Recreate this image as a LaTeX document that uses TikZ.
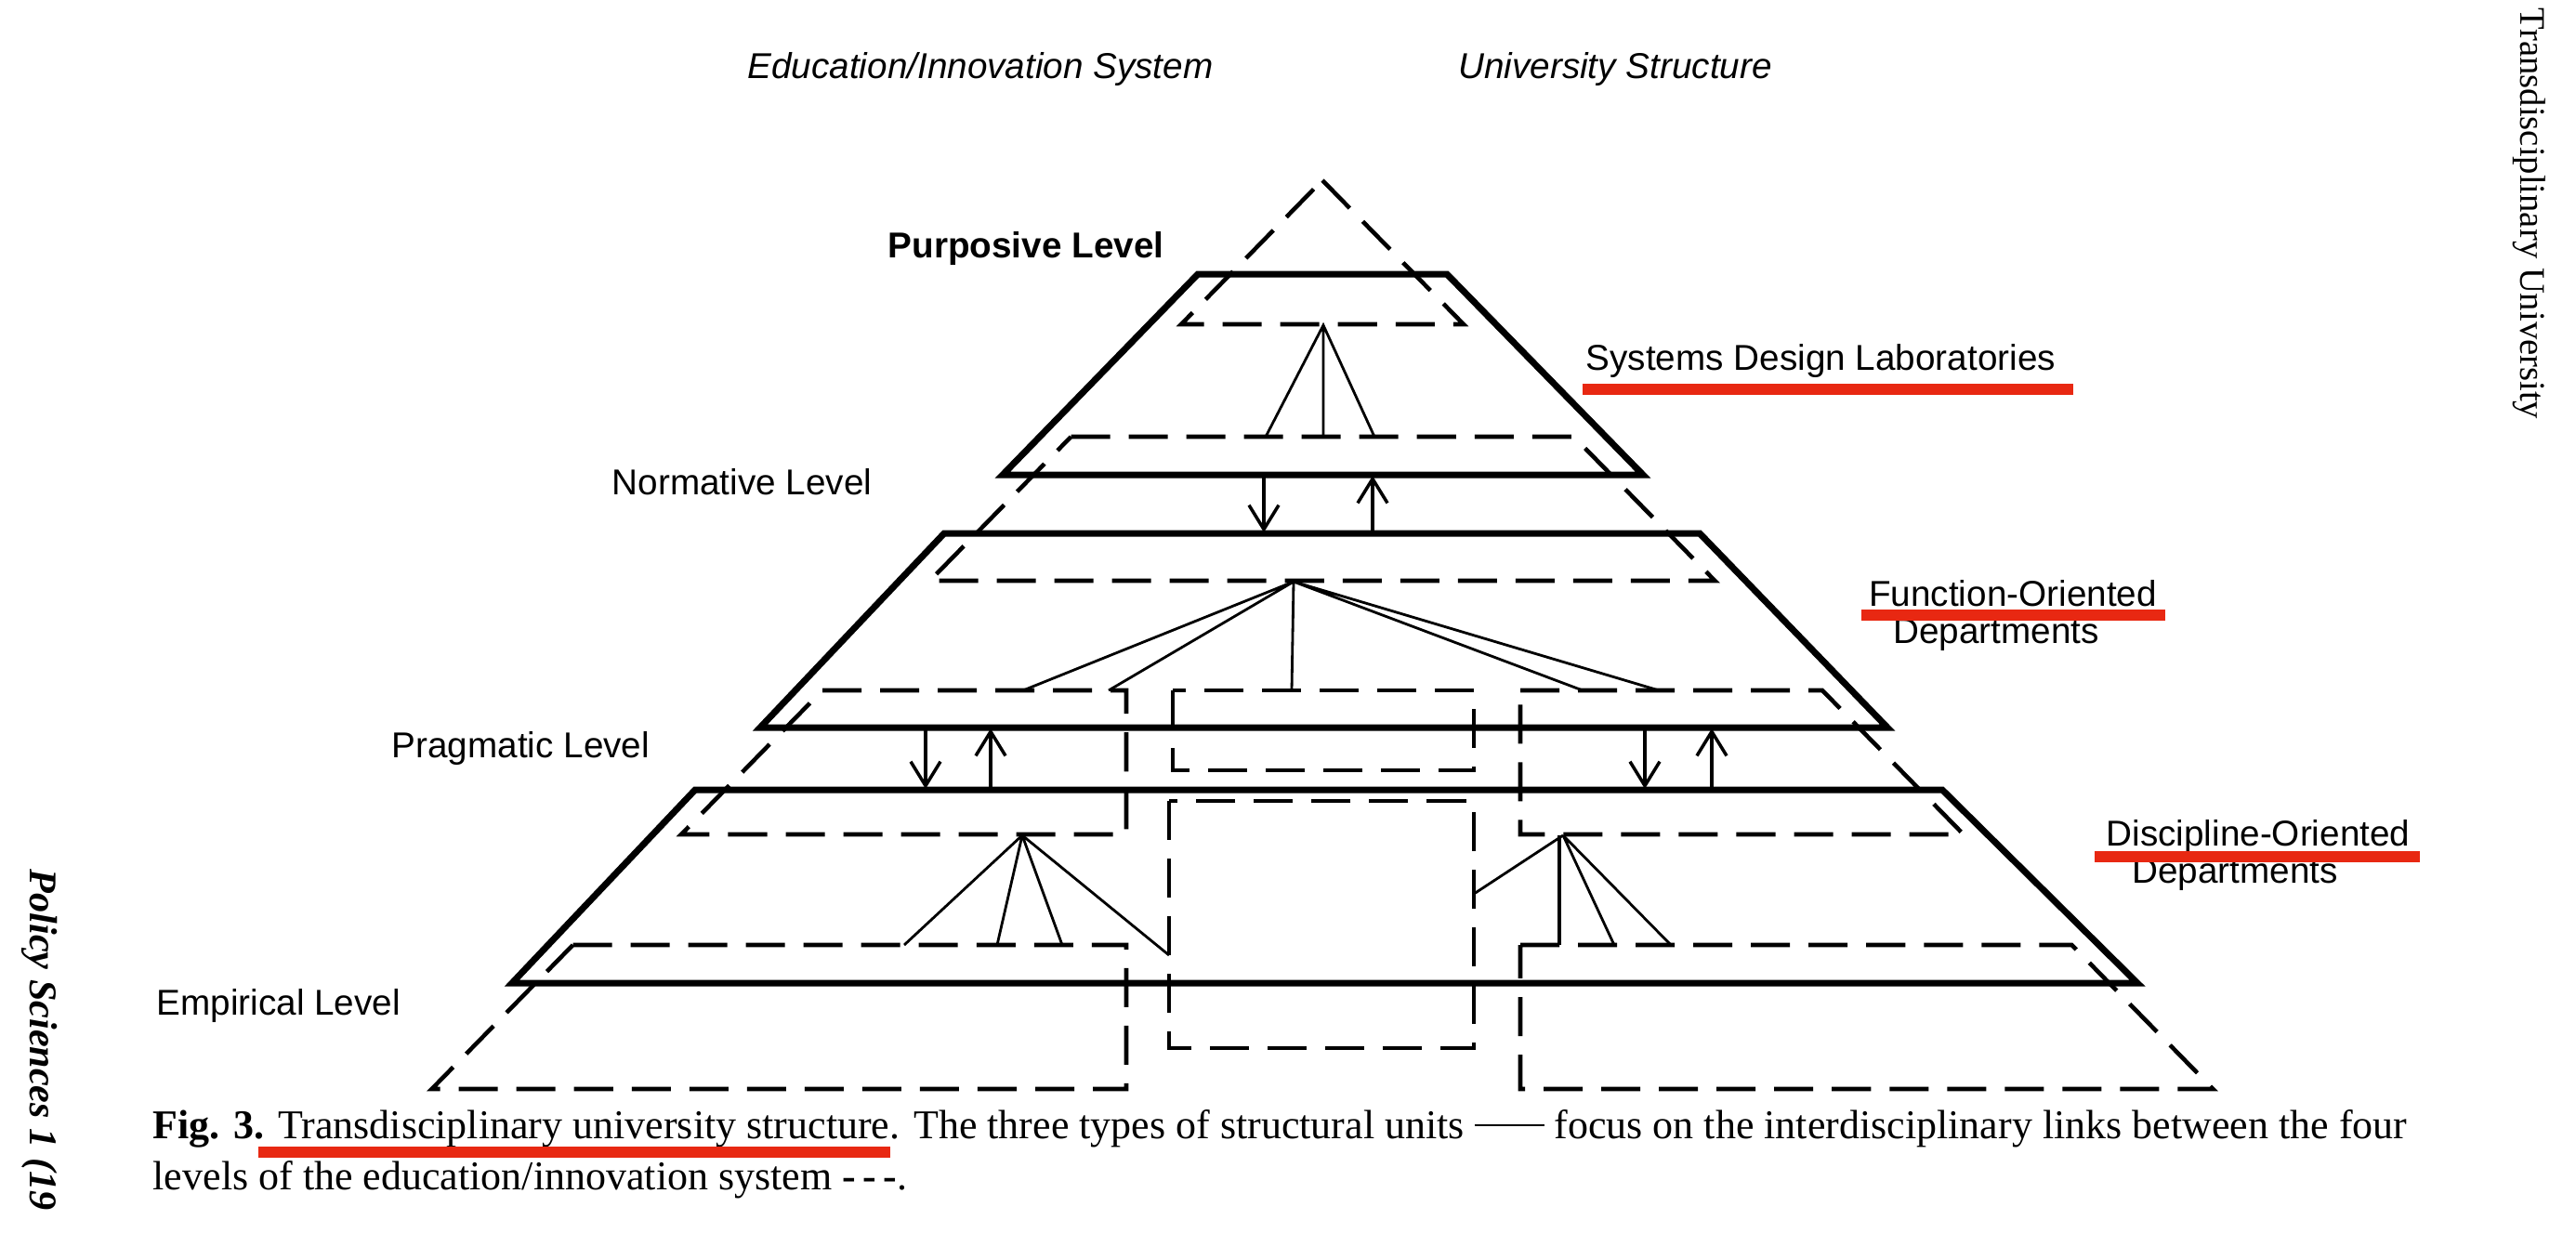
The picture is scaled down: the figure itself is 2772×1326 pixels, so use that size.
\documentclass[tikz,border=0pt]{standalone}
\usepackage{fontspec}
\setmainfont{Liberation Serif}
\setsansfont{Liberation Sans}
\usetikzlibrary{arrows.meta}
\definecolor{redmark}{RGB}{232,40,18}
\begin{document}
\begin{tikzpicture}[x=0.01cm,y=-0.01cm,
  solidedge/.style={line width=2pt, line join=miter},
  levelbound/.style={line width=1.3pt, dash pattern=on 0.42cm off 0.2cm, line join=miter},
  fanline/.style={line width=0.8pt},
  flowarrow/.style={line width=1pt, -{Straight Barb[length=0.26cm,width=0.32cm,line width=1pt]}},
  lbl/.style={font=\sffamily\fontsize{11}{13}\selectfont, inner sep=0pt},
  redbar/.style={redmark, line width=3.2pt},
]
\useasboundingbox (0,0) rectangle (2772,1326);
\clip (0,0) rectangle (2772,1326);
\fill[white] (0,0) rectangle (2772,1326);

% ---------- headings ----------
\node[lbl, anchor=base] (edu) at (1055,84) {\itshape Education/Innovation System};
\node[lbl, anchor=base] (uni) at (1738,84) {\itshape University Structure};

% ---------- level labels ----------
\node[lbl, anchor=base west] (purp) at (955,277) {\bfseries Purposive Level};
\node[lbl, anchor=base west] (norm) at (658,532) {Normative Level};
\node[lbl, anchor=base west] (prag) at (421,815) {Pragmatic Level};
\node[lbl, anchor=base west] (emp) at (168,1092) {Empirical Level};

% ---------- unit labels ----------
\node[lbl, anchor=base west] (sdl) at (1706,398) {Systems Design Laboratories};
\node[lbl, anchor=base] (fo) at (2166,652) {Function-Oriented};
\node[lbl, anchor=base] (fod) at (2148,692) {Departments};
\node[lbl, anchor=base] (dio) at (2430,910) {Discipline-Oriented};
\node[lbl, anchor=base] (diod) at (2405,950) {Departments};

\draw[redbar] (1703,419) -- (2231,419);
\draw[redbar] (2003,662) -- (2330,662);
\draw[redbar] (2254,922) -- (2604,922);

% ---------- dashed education/innovation system levels ----------
% purposive
\draw[levelbound] (1423,194) -- (1574.9,349) -- (1271.1,349) -- cycle;
% normative
\draw[levelbound] (1152.5,470) -- (1693.5,470) -- (1845.4,625) -- (1000.6,625) -- cycle;
% pragmatic
\draw[levelbound] (885,743) -- (1212,743) -- (1212,898) -- (733.1,898) -- cycle;
\draw[levelbound] (1262,743) rectangle (1586,829);
\draw[levelbound] (1636,743) -- (1961,743) -- (2112.9,898) -- (1636,898) -- cycle;
% empirical
\draw[levelbound] (616.5,1017) -- (1212,1017) -- (1212,1172) -- (464.6,1172) -- cycle;
\draw[levelbound] (1258,862) rectangle (1586,1128);
\draw[levelbound] (1636,1017) -- (2229.5,1017) -- (2381.4,1172) -- (1636,1172) -- cycle;

% ---------- solid university structure units ----------
\draw[solidedge] (1289,295) -- (1557,295) -- (1768,511) -- (1079,511) -- cycle;
\draw[solidedge] (1016,574) -- (1829,574) -- (2031,783) -- (818,783) -- cycle;
\draw[solidedge] (748,850) -- (2090,850) -- (2300,1058) -- (551,1058) -- cycle;

% ---------- fans ----------
\coordinate (f1) at (1424,350);
\coordinate (f1a) at (1362,470);
\coordinate (f1b) at (1424,470);
\coordinate (f1c) at (1479,470);
\draw[fanline] (f1a) -- (f1) -- (f1c) (f1) -- (f1b);

\coordinate (f2) at (1392,626);
\coordinate (f2a) at (1101,743);
\coordinate (f2b) at (1193,743);
\coordinate (f2c) at (1390,743);
\coordinate (f2d) at (1703,743);
\coordinate (f2e) at (1785,743);
\draw[fanline] (f2) -- (f2a) (f2) -- (f2b) (f2) -- (f2c) (f2) -- (f2d) (f2) -- (f2e);

\coordinate (f3) at (1100,899);
\coordinate (f3a) at (973,1017);
\coordinate (f3b) at (1073,1017);
\coordinate (f3c) at (1143,1017);
\coordinate (f3d) at (1258,1028);
\draw[fanline] (f3) -- (f3a) (f3) -- (f3b) (f3) -- (f3c) (f3) -- (f3d);

\coordinate (f4) at (1682,899);
\coordinate (f4a) at (1586,962);
\coordinate (f4b) at (1678,1017);
\coordinate (f4c) at (1737,1017);
\coordinate (f4d) at (1798,1017);
\draw[fanline] (f4) -- (f4a) (f4) -- (f4c) (f4) -- (f4d);
\draw[line width=1.1pt] (1678,899) -- (f4b);

% ---------- arrows between units ----------
\coordinate (a1s) at (1360,512); \coordinate (a1e) at (1360,573);
\coordinate (a2s) at (1477,573); \coordinate (a2e) at (1477,512);
\coordinate (a3s) at (996,784);  \coordinate (a3e) at (996,849);
\coordinate (a4s) at (1066,849); \coordinate (a4e) at (1066,784);
\coordinate (a5s) at (1770,784); \coordinate (a5e) at (1770,849);
\coordinate (a6s) at (1842,849); \coordinate (a6e) at (1842,784);
\draw[flowarrow] (a1s) -- (a1e);
\draw[flowarrow] (a2s) -- (a2e);
\draw[flowarrow] (a3s) -- (a3e);
\draw[flowarrow] (a4s) -- (a4e);
\draw[flowarrow] (a5s) -- (a5e);
\draw[flowarrow] (a6s) -- (a6e);

% ---------- caption ----------
\node[anchor=base west, inner sep=0pt] (caption) at (164,1225)
  {\resizebox{24.24cm}{!}{\fontsize{12}{15.2}\selectfont\begin{tabular}[t]{@{}l@{}}
  {\bfseries Fig. 3.} Transdisciplinary university structure. The three types of structural units \rule[0.3em]{1.7em}{0.6pt} focus on the interdisciplinary links between the four\\
  levels of the education/innovation system {\bfseries -\,-\,-}.
  \end{tabular}}};
\draw[redbar] (278,1240) -- (958,1240);

% ---------- page margins text ----------
\node[rotate=-90, anchor=base east, inner sep=0pt, font=\fontsize{11}{13}\selectfont] (hdr) at (2712,452) {Transdisciplinary University};
\node[rotate=-90, anchor=base west, inner sep=0pt, font=\bfseries\itshape\fontsize{12}{14}\selectfont] (jrnl) at (32,935) {Policy Sciences 1 (19};
\end{tikzpicture}
\end{document}
